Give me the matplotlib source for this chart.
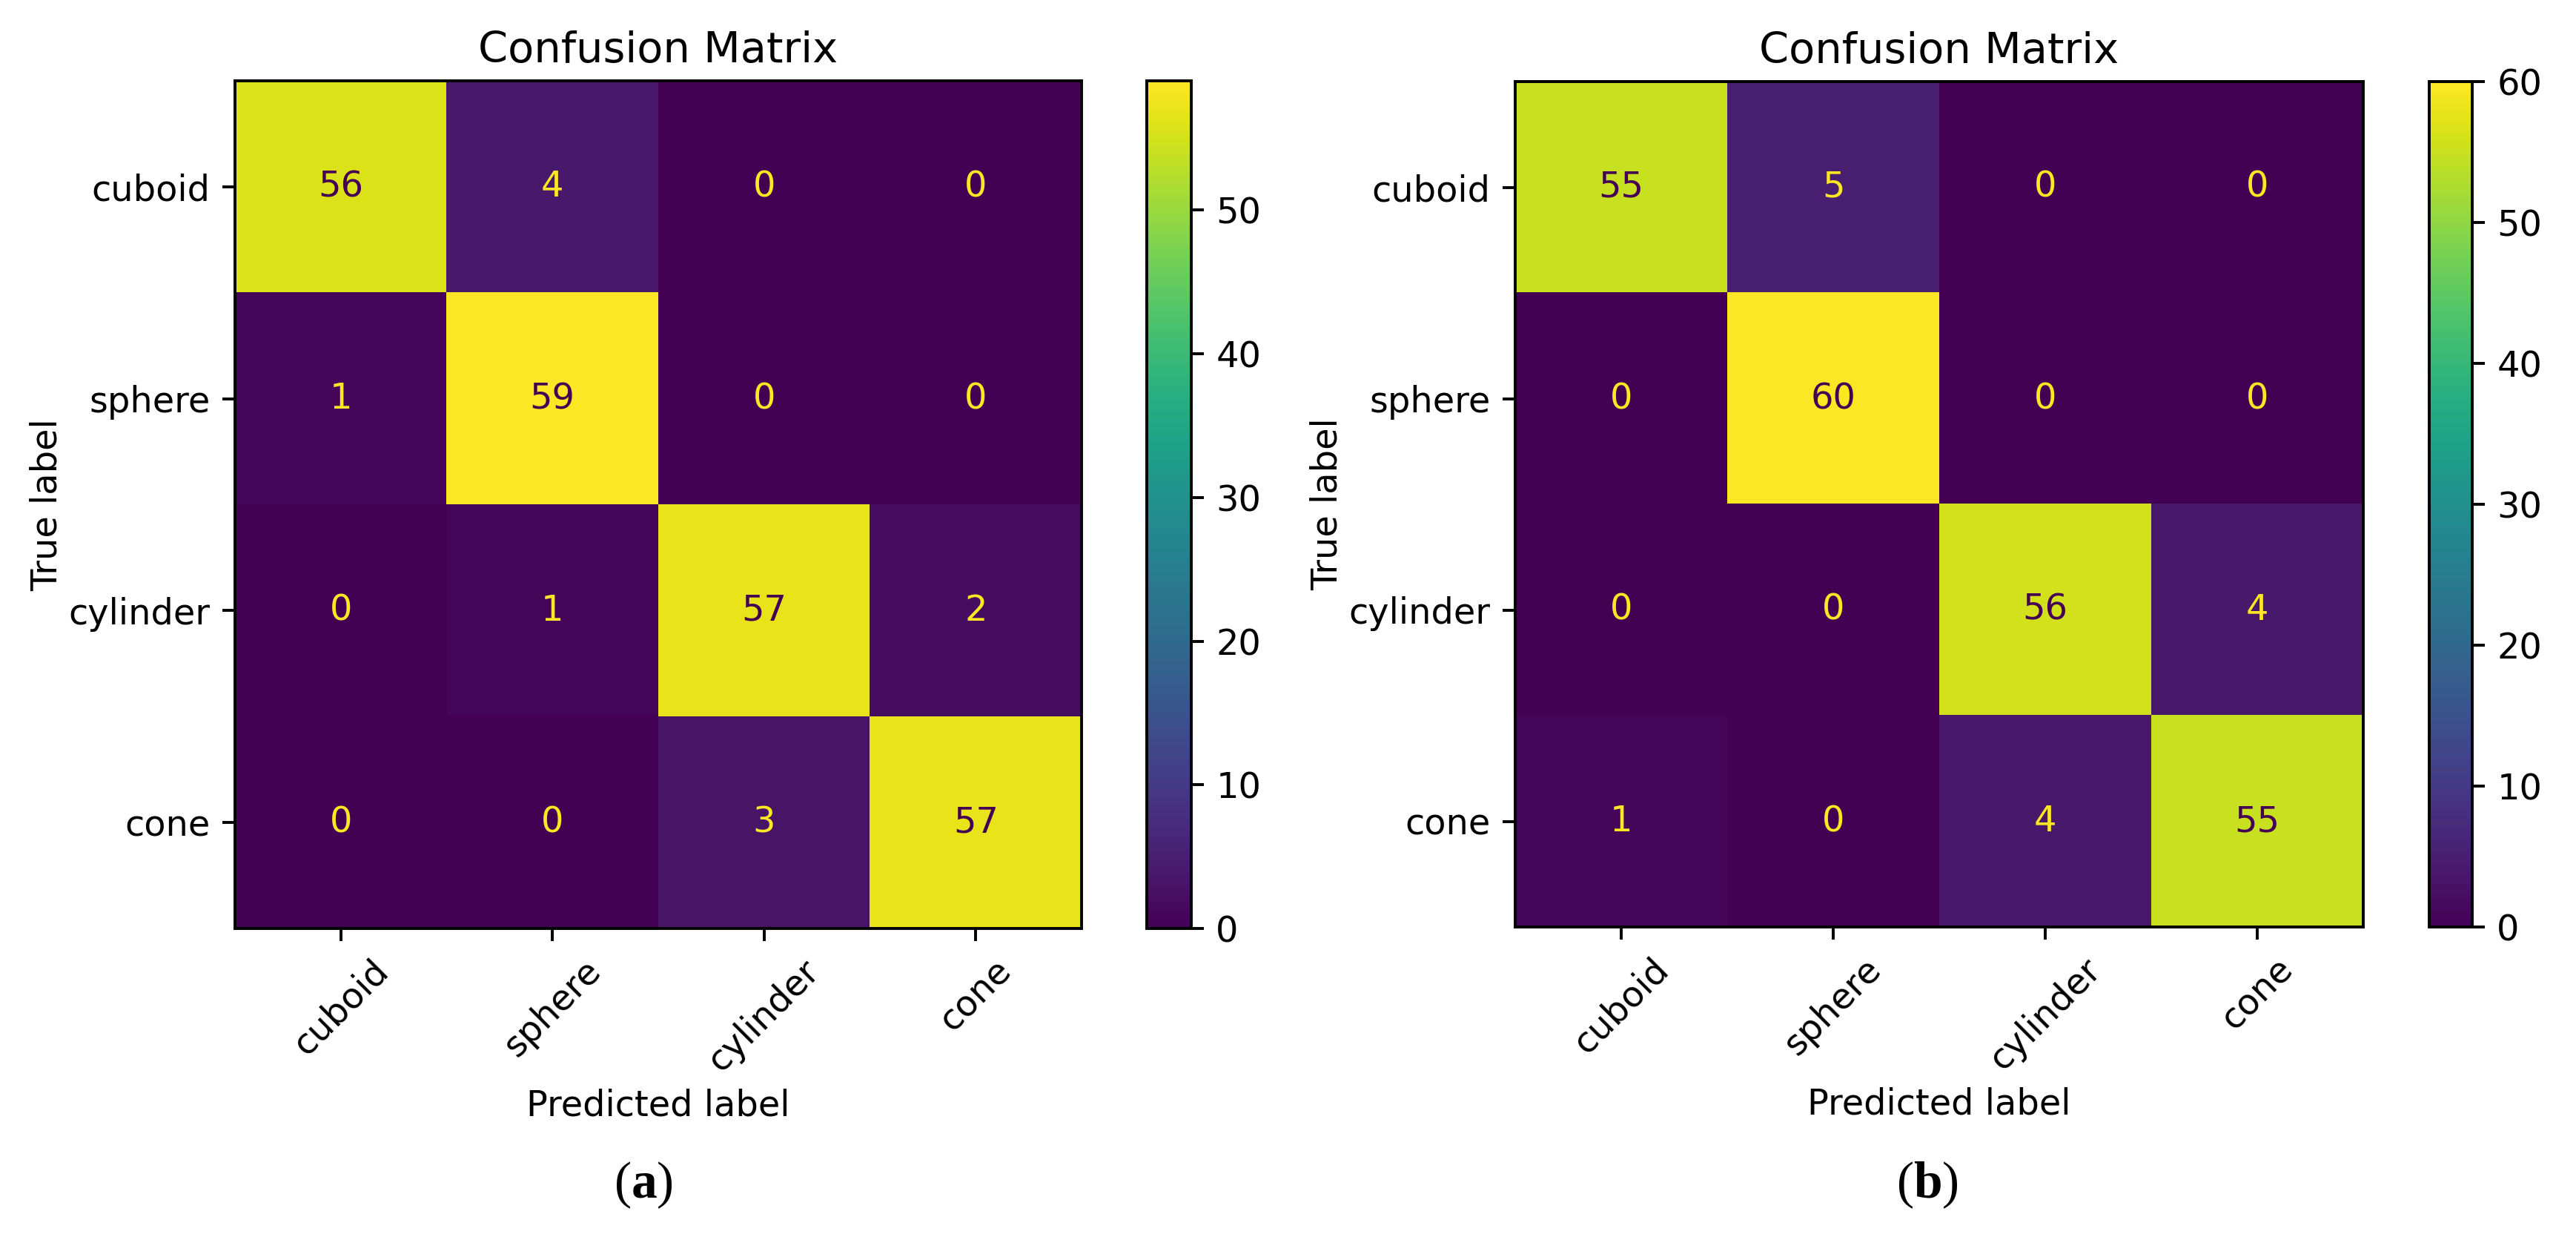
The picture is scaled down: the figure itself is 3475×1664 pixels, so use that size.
import numpy as np
import matplotlib
matplotlib.use("Agg")
import matplotlib.pyplot as plt

# class names shared by both matrices
classes = ["cuboid", "sphere", "cylinder", "cone"]

# (a) confusion matrix, rows = true label, cols = predicted label
cm_a = [[56, 4, 0, 0],
        [1, 59, 0, 0],
        [0, 1, 57, 2],
        [0, 0, 3, 57]]

# (b) confusion matrix
cm_b = [[55, 5, 0, 0],
        [0, 60, 0, 0],
        [0, 0, 56, 4],
        [1, 0, 4, 55]]

cbar_ticks_a = [0, 10, 20, 30, 40, 50]
cbar_ticks_b = [0, 10, 20, 30, 40, 50, 60]
captions = ["a", "b"]

W, H = 3475, 1664
BASE = 34.5      # base font size (pt at dpi 100)
LW = 2.8

plt.rcParams["font.family"] = ["DejaVu Sans"]
plt.rcParams["mathtext.fontset"] = "custom"
plt.rcParams["mathtext.rm"] = "Liberation Serif"
plt.rcParams["mathtext.bf"] = "Liberation Serif:bold"

fig = plt.figure(figsize=(W / 100, H / 100), dpi=100)


def px_axes(x0, y0, x1, y1):
    # pixel box (top-left origin) -> figure axes
    return fig.add_axes([x0 / W, (H - y1) / H, (x1 - x0) / W, (y1 - y0) / H])


def draw_cm(cm, box, cbox, cticks, cap, cap_x):
    cm = np.array(cm)
    ax = px_axes(*box)
    cax = px_axes(*cbox)
    cmap = plt.get_cmap("viridis")
    vmax = cm.max()
    im = ax.imshow(cm, cmap=cmap, vmin=0, vmax=vmax, aspect="auto",
                   interpolation="nearest")

    # cell text, dark on bright cells like sklearn
    thresh = (cm.max() + cm.min()) / 2.0
    for i in range(cm.shape[0]):
        for j in range(cm.shape[1]):
            color = cmap(0.0) if cm[i, j] >= thresh else cmap(1.0)
            ax.text(j, i, str(cm[i, j]), ha="center", va="center",
                    color=color, fontsize=BASE)

    ax.set_xticks(range(len(classes)))
    ax.set_yticks(range(len(classes)))
    ax.set_xticklabels(classes, rotation=45, fontsize=BASE)
    ax.set_yticklabels(classes, fontsize=BASE)
    ax.set_xlabel("Predicted label", fontsize=BASE, labelpad=10)
    ax.set_ylabel("True label", fontsize=BASE, labelpad=4)
    ax.set_title("Confusion Matrix", fontsize=BASE * 1.2, pad=18)
    ax.tick_params(length=12, width=LW, pad=12)
    for s in ax.spines.values():
        s.set_linewidth(LW)

    cb = fig.colorbar(im, cax=cax)
    cb.set_ticks(cticks)
    cb.ax.tick_params(labelsize=BASE, length=12, width=LW, pad=12)
    cb.outline.set_linewidth(LW)

    fig.text(cap_x / W, 1 - 1598 / H, r"$(\mathbf{" + cap + r"})$",
             ha="center", va="center", fontsize=50)


draw_cm(cm_a, (317, 109, 1459, 1252), (1547, 109, 1607, 1252),
        cbar_ticks_a, captions[0], 868)
draw_cm(cm_b, (2044, 110, 3188, 1250), (3277, 110, 3335, 1250),
        cbar_ticks_b, captions[1], 2600)

fig.savefig("out.png", dpi=100, facecolor="white")
